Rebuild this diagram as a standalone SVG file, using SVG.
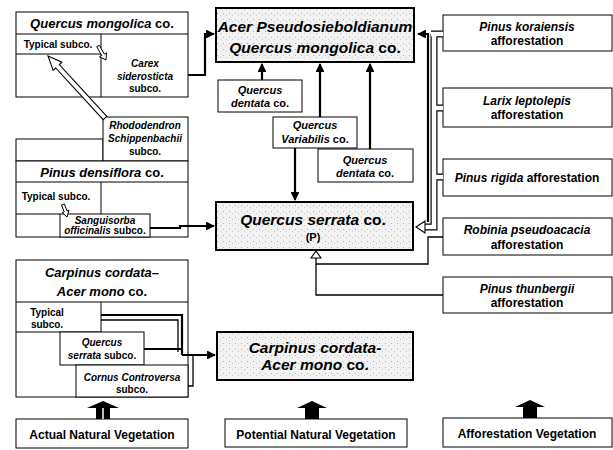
<svg xmlns="http://www.w3.org/2000/svg" width="613" height="450" viewBox="0 0 613 450">
<defs>
<pattern id="stip" width="6" height="6" patternUnits="userSpaceOnUse">
<rect width="6" height="6" fill="#f2f2f2"/>
<rect x="1" y="1" width="1" height="1" fill="#b0b0b0"/>
<rect x="4" y="3" width="1" height="1" fill="#c8c8c8"/>
</pattern>
<marker id="ah" viewBox="0 0 10 10" refX="9" refY="5" markerWidth="4" markerHeight="4" orient="auto" markerUnits="strokeWidth">
<path d="M0,0 L10,5 L0,10 z" fill="#000"/>
</marker>
</defs>
<style>
.t{font-family:"Liberation Sans Narrow","Liberation Sans",Arial,sans-serif;font-weight:bold;text-anchor:middle;fill:#000}
.i{font-style:italic}
.b{fill:#fff;stroke:#000;stroke-width:1}
.g{fill:url(#stip);stroke:#000;stroke-width:2}
.ln{fill:none;stroke:#000;stroke-width:1}
.c{fill:none;stroke:#000;stroke-width:2.2}
.th{fill:none;stroke:#000;stroke-width:1.3}
.ho{fill:none;stroke:#000;stroke-width:7}
.hw{fill:none;stroke:#fff;stroke-width:4.6}
.s13{font-size:13px}.s12{font-size:12px}.s11{font-size:11px}.s10{font-size:10px}.s15{font-size:15.5px}
</style>

<!-- Quercus mongolica co. table -->
<g id="qm-table">
<rect class="b" x="16" y="12" width="172" height="85"/>
<line class="ln" x1="16" y1="34" x2="188" y2="34"/>
<line class="ln" x1="101" y1="34" x2="101" y2="97"/>
<line class="ln" x1="16" y1="54" x2="101" y2="54"/>
<text class="t s13" x="102" y="28"><tspan class="i">Quercus mongolica</tspan> co.</text>
<text class="t s10" x="58" y="48">Typical subco.</text>
<text class="t s10" x="145" y="67"><tspan class="i">Carex</tspan></text>
<text class="t s10 i" x="145" y="80">siderosticta</text>
<text class="t s10" x="145" y="92">subco.</text>
</g>

<!-- Rhododendron subco. -->
<g id="rhodo">
<rect class="b" x="16" y="139" width="87" height="22"/>
<rect class="b" x="103" y="117" width="85" height="44"/>
<text class="t s10 i" x="145" y="129">Rhododendron</text>
<text class="t s10 i" x="145" y="142">Schippenbachii</text>
<text class="t s10" x="145" y="155">subco.</text>
</g>

<!-- Pinus densiflora co. table -->
<g id="pd-table">
<rect class="b" x="16" y="161" width="172" height="76"/>
<line class="ln" x1="16" y1="182" x2="188" y2="182"/>
<line class="ln" x1="101" y1="182" x2="101" y2="214"/>
<line class="ln" x1="16" y1="214" x2="60" y2="214"/>
<rect class="b" x="60" y="214" width="90" height="23"/>
<text class="t s13" x="102" y="177"><tspan class="i">Pinus densiflora</tspan> co.</text>
<text class="t s10" x="56" y="200">Typical subco.</text>
<text class="t s10 i" x="105" y="224">Sanguisorba</text>
<text class="t s10" x="105" y="234"><tspan class="i">officinalis</tspan> subco.</text>
</g>

<!-- Carpinus cordata-Acer mono co. table -->
<g id="cc-table">
<rect class="b" x="16" y="260" width="172" height="137"/>
<line class="ln" x1="16" y1="302" x2="188" y2="302"/>
<line class="ln" x1="101" y1="302" x2="101" y2="332"/>
<line class="ln" x1="16" y1="332" x2="101" y2="332"/>
<rect class="b" x="60" y="332" width="84" height="33"/>
<rect class="b" x="76" y="365" width="112" height="32"/>
<text class="t s13 i" x="102" y="277">Carpinus cordata–</text>
<text class="t s13" x="102" y="296"><tspan class="i">Acer mono</tspan> co.</text>
<text class="t s10" x="47" y="316">Typical</text>
<text class="t s10" x="47" y="328">subco.</text>
<text class="t s10 i" x="102" y="346">Quercus</text>
<text class="t s10" x="102" y="359"><tspan class="i">serrata</tspan> subco.</text>
<text class="t s10 i" x="132" y="381">Cornus Controversa</text>
<text class="t s10" x="132" y="393">subco.</text>
</g>

<!-- Middle column -->
<g id="acer">
<rect class="g" x="216" y="8" width="198" height="54"/>
<text class="t s15 i" x="315" y="32">Acer Pseudosieboldianum</text>
<text class="t s15" x="315" y="53"><tspan class="i">Quercus mongolica</tspan> co.</text>
</g>
<g id="dentata1">
<rect class="b" x="218" y="80" width="84" height="32"/>
<text class="t s11 i" x="260" y="94">Quercus</text>
<text class="t s11" x="260" y="107"><tspan class="i">dentata</tspan> co.</text>
</g>
<g id="variabilis">
<rect class="b" x="273" y="117" width="84" height="31"/>
<text class="t s11 i" x="315" y="129">Quercus</text>
<text class="t s11" x="315" y="143"><tspan class="i">Variabilis</tspan> co.</text>
</g>
<g id="dentata2">
<rect class="b" x="318" y="149" width="95" height="33"/>
<text class="t s11 i" x="365" y="164">Quercus</text>
<text class="t s11" x="365" y="177"><tspan class="i">dentata</tspan> co.</text>
</g>
<g id="serrata">
<rect class="g" x="216" y="202" width="197" height="48"/>
<text class="t s15" x="313" y="225"><tspan class="i">Quercus serrata</tspan> co.</text>
<text class="t s11" x="313" y="241">(P)</text>
</g>
<g id="carpinus">
<rect class="g" x="217" y="332" width="196" height="48"/>
<text class="t s15 i" x="315" y="353">Carpinus cordata-</text>
<text class="t s15" x="315" y="370"><tspan class="i">Acer mono</tspan> co.</text>
</g>

<!-- Afforestation column -->
<g id="koraiensis">
<rect class="b" x="443" y="15" width="169" height="36"/>
<text class="t s12 i" x="527" y="31">Pinus koraiensis</text>
<text class="t s12" x="527" y="45">afforestation</text>
</g>
<g id="larix">
<rect class="b" x="443" y="88" width="169" height="39"/>
<text class="t s12 i" x="527" y="105">Larix leptolepis</text>
<text class="t s12" x="527" y="119">afforestation</text>
</g>
<g id="rigida">
<rect class="b" x="443" y="159" width="169" height="37"/>
<text class="t s12" x="527" y="182"><tspan class="i">Pinus rigida</tspan> afforestation</text>
</g>
<g id="robinia">
<rect class="b" x="443" y="218" width="169" height="37"/>
<text class="t s12 i" x="527" y="234">Robinia pseudoacacia</text>
<text class="t s12" x="527" y="249">afforestation</text>
</g>
<g id="thunbergii">
<rect class="b" x="443" y="277" width="169" height="36"/>
<text class="t s12 i" x="527" y="293">Pinus thunbergii</text>
<text class="t s12" x="527" y="307">afforestation</text>
</g>

<!-- Bottom legend -->
<g id="actual">
<rect class="b" x="16" y="419" width="172" height="29"/>
<text class="t s12" x="102" y="439">Actual Natural Vegetation</text>
</g>
<g id="potential">
<rect class="b" x="225" y="419" width="182" height="28"/>
<text class="t s12" x="316" y="439">Potential Natural Vegetation</text>
</g>
<g id="afforest">
<rect class="b" x="443" y="418" width="169" height="29"/>
<text class="t s12" x="527" y="438">Afforestation Vegetation</text>
</g>

<!-- Connectors -->
<g id="connectors">
<path class="c" d="M188,75 H205 V34 H214" marker-end="url(#ah)"/>
<path class="c" d="M150,228 H180 V226 H214" marker-end="url(#ah)"/>
<path class="c" d="M101,315 H182 V355"/>
<path class="th" d="M101,320 H178 V352"/>
<path class="c" d="M144,349 H182"/>
<path class="th" d="M188,386 H193 V355"/>
<path class="c" d="M182,355 H215" marker-end="url(#ah)"/>
<path class="c" d="M262,80 V64" marker-end="url(#ah)"/>
<path class="c" d="M320,117 V64" marker-end="url(#ah)"/>
<path class="c" d="M370,149 V64" marker-end="url(#ah)"/>
<path class="c" d="M295,148 V200" marker-end="url(#ah)"/>
<polygon points="106.8,116.3 59.3,64.6 61.9,62.2 48,56 53.1,70.4 55.7,68 103.2,119.7" fill="#fff" stroke="#000" stroke-width="1.1"/>
<polygon points="99.3,45.3 104.3,54.1 106.5,52.8 106,60 99.5,56.8 101.7,55.5 96.7,46.7" fill="#fff" stroke="#000" stroke-width="1"/>
<polygon points="64.4,204 67,211 69,210.3 67,217 62.3,212.6 64.2,211.9 61.6,205" fill="#fff" stroke="#000" stroke-width="1"/>
<path class="ho" d="M443,34 H431 M443,108 H434 M443,177 H434 M434,34 V227 H423"/>
<path class="hw" d="M443,34 H431 M443,108 H434 M443,177 H434 M434,34 V227 H423"/>
<polygon points="416,227 425,221 425,233" fill="#fff" stroke="#000" stroke-width="1.1"/>
<path class="c" d="M428,222 V34 H418" stroke-width="2.6" marker-end="url(#ah)"/>
<path class="th" d="M443,237 H428 V264 H316 V258"/>
<path class="th" d="M443,295 H316 V264"/>
<polygon points="316,251 311,258 321,258" fill="#fff" stroke="#000" stroke-width="1.1"/>
<polygon points="103,401 119,408 110,408 110,419 96,419 96,408 87,408" fill="#000"/>
<line x1="103" y1="408" x2="103" y2="419" stroke="#fff" stroke-width="1.5"/>
<polygon points="312,401 327,408 319,408 319,419 305,419 305,408 297,408" fill="#000"/>
<polygon points="530,400 545,407 537,407 537,418 523,418 523,407 515,407" fill="#000"/>
</g>
</svg>
